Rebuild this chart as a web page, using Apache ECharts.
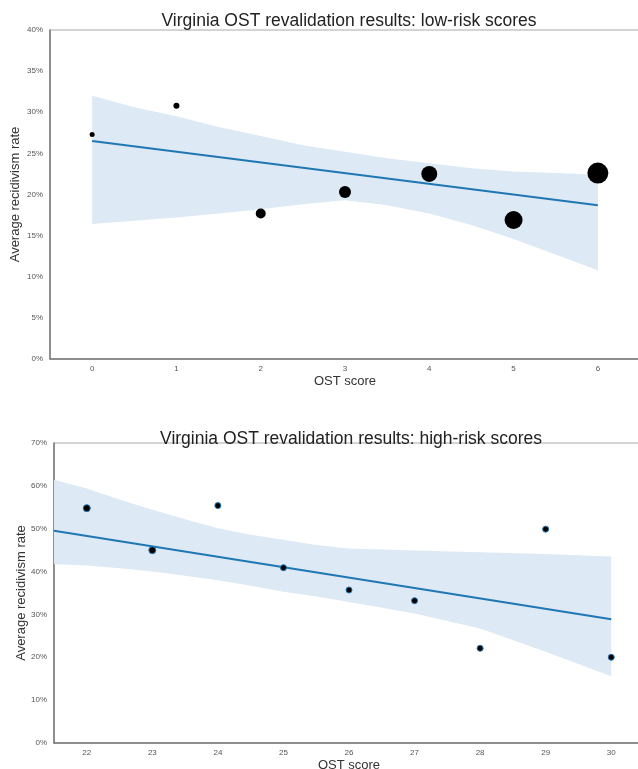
<!DOCTYPE html>
<html>
<head>
<meta charset="utf-8">
<script src="https://cdn.jsdelivr.net/npm/echarts@6/dist/echarts.min.js"></script>
<style>
html,body{margin:0;padding:0;background:#fff;}
#chart{width:638px;height:769px;}
</style>
</head>
<body>
<div id="chart"></div>
<script>
// ---------- Low-risk chart data ----------
var lowScores = [0, 1, 2, 3, 4, 5, 6];
var lowRates = [27.3, 30.8, 17.7, 20.3, 22.5, 16.9, 22.6];
var lowSizes = [5, 6, 10, 12, 16, 18, 21];
var lowFitX = [0, 6];
var lowFitY = [26.5, 18.7];
var lowBandX = [0, 0.5, 1, 1.5, 2, 2.5, 3, 3.5, 4, 4.5, 5, 5.5, 6];
var lowBandLower = [16.4, 16.8, 17.2, 17.7, 18.2, 18.8, 19.3, 18.7, 17.7, 16.3, 14.6, 12.7, 10.8];
var lowBandUpper = [32.0, 30.6, 29.5, 28.2, 27.1, 26.0, 25.2, 24.4, 23.8, 23.2, 22.8, 22.6, 22.4];
var lowTicks = [0, 1, 2, 3, 4, 5, 6];

// ---------- High-risk chart data ----------
var highScores = [22, 23, 24, 25, 26, 27, 28, 29, 30];
var highRates = [54.8, 45.0, 55.4, 40.9, 35.7, 33.2, 22.1, 49.9, 20.0];
var highSizes = [7, 7, 6, 6, 6, 6, 6, 6, 6];
var highFitX = [21.5, 30];
var highFitY = [49.5, 28.9];
var highBandX = [21.5, 22, 22.5, 23, 23.5, 24, 24.5, 25, 25.5, 26, 27, 28, 29, 30];
var highBandLower = [41.7, 41.4, 40.8, 40.0, 39.0, 38.0, 36.7, 35.3, 34.2, 32.9, 30.2, 26.7, 21.3, 15.6];
var highBandUpper = [61.4, 59.4, 56.8, 54.4, 52.2, 50.1, 48.6, 47.4, 46.2, 45.4, 44.9, 44.5, 44.1, 43.5];
var highTicks = [22, 23, 24, 25, 26, 27, 28, 29, 30];

var titles = ['Virginia OST revalidation results: low-risk scores', 'Virginia OST revalidation results: high-risk scores'];
var xName = 'OST score';
var yName = 'Average recidivism rate';

function pairs(xs, ys) { return xs.map(function (x, i) { return [x, ys[i]]; }); }
function triples(xs, lo, hi) { return xs.map(function (x, i) { return [x, lo[i], hi[i]]; }); }

var FONT = 'Liberation Sans, Arial, sans-serif';
var BAND = '#dde9f4';
var LINE = '#1f77b4';

var bandLow = triples(lowBandX, lowBandLower, lowBandUpper);
var bandHigh = triples(highBandX, highBandLower, highBandUpper);

function makeBandRender(data) {
  return function (params, api) {
    if (params.dataIndex !== 0) return null;
    var top = [], bot = [];
    for (var i = 0; i < data.length; i++) {
      top.push(api.coord([data[i][0], data[i][2]]));
      bot.push(api.coord([data[i][0], data[i][1]]));
    }
    var pts = top.concat(bot.reverse());
    return { type: 'polygon', shape: { points: pts }, style: { fill: BAND }, silent: true };
  };
}

function xAxisCfg(gi, min, max, ticks) {
  return {
    gridIndex: gi, type: 'value', min: min, max: max,
    name: xName, nameLocation: 'middle', nameGap: 16, nameMoveOverlap: false,
    nameTextStyle: { fontFamily: FONT, fontSize: 13, color: '#333' },
    axisLine: { show: true, onZero: false, lineStyle: { color: '#777', width: 1.5 } },
    axisTick: { show: false },
    splitLine: { show: false },
    axisLabel: { customValues: ticks, fontFamily: FONT, fontSize: 8, color: '#555', margin: 6 }
  };
}
function yAxisCfg(gi, max, interval, gap) {
  return {
    gridIndex: gi, type: 'value', min: 0, max: max, interval: interval,
    name: yName, nameLocation: 'middle', nameGap: gap, nameMoveOverlap: false,
    nameTextStyle: { fontFamily: FONT, fontSize: 13, color: '#333' },
    axisLine: { show: true, onZero: false, lineStyle: { color: '#777', width: 1.5 } },
    axisTick: { show: false },
    splitLine: { show: false },
    axisLabel: { formatter: '{value}%', fontFamily: FONT, fontSize: 8, color: '#555', margin: 7 }
  };
}

var option = {
  animation: false,
  backgroundColor: '#fff',
  title: [
    { text: titles[0], left: 344, top: 7, textAlign: 'center',
      textStyle: { fontFamily: FONT, fontSize: 17.5, fontWeight: 'normal', color: '#222' } },
    { text: titles[1], left: 346, top: 425, textAlign: 'center',
      textStyle: { fontFamily: FONT, fontSize: 17.5, fontWeight: 'normal', color: '#222' } }
  ],
  grid: [
    { left: 50, top: 30, width: 590, height: 329, show: true, borderColor: '#aaa', borderWidth: 1,
      backgroundColor: 'transparent', outerBoundsMode: 'none', containLabel: false },
    { left: 54, top: 443, width: 590, height: 300, show: true, borderColor: '#aaa', borderWidth: 1,
      backgroundColor: 'transparent', outerBoundsMode: 'none', containLabel: false }
  ],
  xAxis: [ xAxisCfg(0, -0.5, 6.5, lowTicks), xAxisCfg(1, 21.5, 30.5, highTicks) ],
  yAxis: [ yAxisCfg(0, 40, 5, 28), yAxisCfg(1, 70, 10, 26) ],
  series: [
    { type: 'custom', xAxisIndex: 0, yAxisIndex: 0, data: bandLow, renderItem: makeBandRender(bandLow),
      encode: { x: 0, y: [1, 2] }, silent: true, z: 1 },
    { type: 'line', xAxisIndex: 0, yAxisIndex: 0, data: pairs(lowFitX, lowFitY),
      symbol: 'none', lineStyle: { color: LINE, width: 2 }, z: 3 },
    { type: 'scatter', xAxisIndex: 0, yAxisIndex: 0, data: pairs(lowScores, lowRates),
      symbolSize: function (v, p) { return lowSizes[p.dataIndex]; },
      itemStyle: { color: '#000', opacity: 1 }, z: 5 },

    { type: 'custom', xAxisIndex: 1, yAxisIndex: 1, data: bandHigh, renderItem: makeBandRender(bandHigh),
      encode: { x: 0, y: [1, 2] }, silent: true, z: 1 },
    { type: 'line', xAxisIndex: 1, yAxisIndex: 1, data: pairs(highFitX, highFitY),
      symbol: 'none', lineStyle: { color: LINE, width: 2 }, z: 3 },
    { type: 'scatter', xAxisIndex: 1, yAxisIndex: 1, data: pairs(highScores, highRates),
      symbolSize: function (v, p) { return highSizes[p.dataIndex]; },
      itemStyle: { color: '#000', borderColor: LINE, borderWidth: 1, opacity: 1 }, z: 5 }
  ]
};

var chart = echarts.init(document.getElementById('chart'), null, { renderer: 'canvas' });
chart.setOption(option);
</script>
</body>
</html>
